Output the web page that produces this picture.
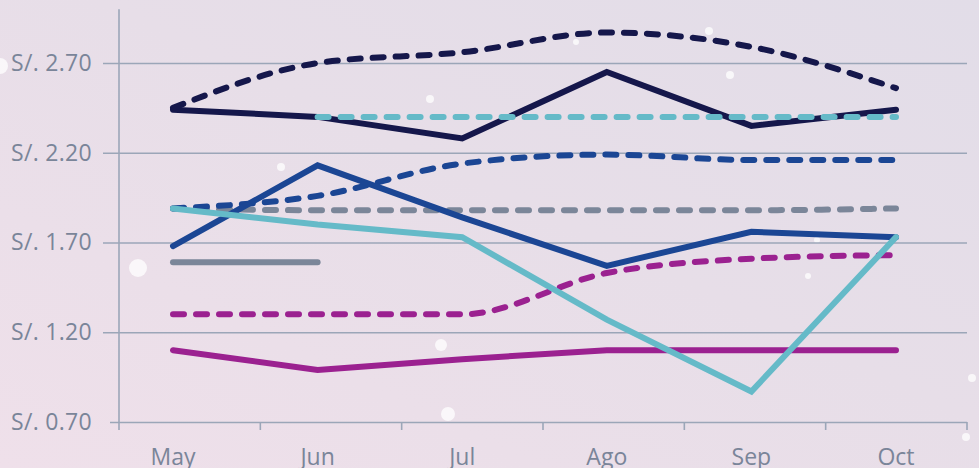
<!DOCTYPE html>
<html>
<head>
<meta charset="utf-8">
<script src="https://cdn.jsdelivr.net/npm/d3@7"></script>
<style>
  html, body { margin: 0; padding: 0; }
  body { width: 979px; height: 468px; overflow: hidden; }
</style>
</head>
<body>
<div id="wrapper"></div>
<script>
// 1. Data
const months = ["May", "Jun", "Jul", "Ago", "Sep", "Oct"]
const yTicks = [0.7, 1.2, 1.7, 2.2, 2.7]

const navySolid   = [2.44, 2.40, 2.28, 2.65, 2.35, 2.44]
const navyDashed  = [2.45, 2.70, 2.76, 2.87, 2.79, 2.56]
const cyanDashed  = [null, 2.40, 2.40, 2.40, 2.40, 2.40]
const blueSolid   = [1.68, 2.13, 1.84, 1.57, 1.76, 1.73]
const blueDashed  = [1.89, 1.96, 2.14, 2.19, 2.16, 2.16]
const grayDashed  = [1.89, 1.88, 1.88, 1.88, 1.88, 1.89]
const graySolid   = [1.59, 1.59, null, null, null, null]
const cyanSolid   = [1.89, 1.80, 1.73, 1.27, 0.87, 1.73]
const purpleDashed = [1.30, 1.30, 1.30, 1.53, 1.61, 1.63]
const purpleSolid = [1.10, 0.99, 1.05, 1.10, 1.10, 1.10]

// drawing order: bottom to top
const series = [
  { values: purpleSolid, color: "#9b2190", dashed: false },
  { values: purpleDashed, color: "#9b2190", dashed: true },
  { values: graySolid, color: "#7b8699", dashed: false },
  { values: grayDashed, color: "#7b8699", dashed: true },
  { values: blueDashed, color: "#1b4694", dashed: true },
  { values: blueSolid, color: "#1b4694", dashed: false },
  { values: cyanSolid, color: "#65bac8", dashed: false },
  { values: navySolid, color: "#15174b", dashed: false },
  { values: cyanDashed, color: "#65bac8", dashed: true },
  { values: navyDashed, color: "#15174b", dashed: true },
]

// decorative background dots [x, y, r]
const bokeh = [
  [0, 66, 8], [138, 268, 9], [448, 414, 7], [441, 345, 6], [430, 99, 4],
  [281, 167, 4], [576, 42, 3], [709, 31, 4], [730, 75, 4], [808, 276, 3],
  [972, 378, 4], [966, 437, 4], [817, 240, 3],
]

// 2. Dimensions
const dimensions = {
  width: 979,
  height: 468,
  axisX: 119,
  plotRight: 967,
  firstPoint: 173,
  lastPoint: 896,
  yTop: 9.2,
  yBottom: 422,
}

// 3. Canvas
const wrapper = d3
  .select("#wrapper")
  .append("svg")
  .attr("width", dimensions.width)
  .attr("height", dimensions.height)
  .style("display", "block")

const defs = wrapper.append("defs")
const bg = defs
  .append("linearGradient")
  .attr("id", "bg")
  .attr("x1", "0%")
  .attr("y1", "100%")
  .attr("x2", "100%")
  .attr("y2", "0%")
bg.append("stop").attr("offset", "0%").attr("stop-color", "#efe0ea")
bg.append("stop").attr("offset", "55%").attr("stop-color", "#e7dee8")
bg.append("stop").attr("offset", "100%").attr("stop-color", "#e2dde8")

wrapper
  .append("rect")
  .attr("width", dimensions.width)
  .attr("height", dimensions.height)
  .attr("fill", "url(#bg)")

wrapper
  .append("g")
  .selectAll("circle")
  .data(bokeh)
  .join("circle")
  .attr("cx", (d) => d[0])
  .attr("cy", (d) => d[1])
  .attr("r", (d) => d[2])
  .attr("fill", "#ffffff")
  .attr("opacity", 0.75)

// 4. Scales
const xScale = d3
  .scalePoint()
  .domain(months)
  .range([dimensions.firstPoint, dimensions.lastPoint])

const edgeScale = d3
  .scaleLinear()
  .domain([0, months.length])
  .range([dimensions.axisX, dimensions.plotRight])

const yScale = d3
  .scaleLinear()
  .domain([0.7, 3.0])
  .range([dimensions.yBottom, dimensions.yTop])

const axisColor = "#9ba6b8"
const textColor = "#7a8599"
const font = "'Open Sans', 'Liberation Sans', sans-serif"

// 5. Axes
const yAxisGenerator = d3
  .axisLeft(yScale)
  .tickValues(yTicks)
  .tickSize(-(dimensions.plotRight - dimensions.axisX))
  .tickPadding(27)
  .tickFormat((d) => "S/. " + d.toFixed(2))

const yAxis = wrapper
  .append("g")
  .attr("transform", `translate(${dimensions.axisX},0)`)
  .call(yAxisGenerator)

yAxis.select(".domain").remove()
yAxis
  .selectAll(".tick line")
  .attr("x1", (d) => (d === 0.7 ? -9 : -16))
  .attr("stroke", axisColor)
  .attr("stroke-width", 1.6)
yAxis
  .selectAll(".tick text")
  .attr("x", -27)
  .attr("fill", textColor)
  .style("font-size", "23px")
  .style("letter-spacing", "0.3px")
  .style("font-family", font)

// vertical axis line
wrapper
  .append("line")
  .attr("x1", dimensions.axisX)
  .attr("x2", dimensions.axisX)
  .attr("y1", yScale.range()[1])
  .attr("y2", dimensions.yBottom + 8)
  .attr("stroke", axisColor)
  .attr("stroke-width", 1.6)

// x tick marks on band edges
wrapper
  .append("g")
  .selectAll("line")
  .data(d3.range(1, months.length + 1))
  .join("line")
  .attr("x1", (d) => edgeScale(d))
  .attr("x2", (d) => edgeScale(d))
  .attr("y1", dimensions.yBottom)
  .attr("y2", dimensions.yBottom + 8)
  .attr("stroke", axisColor)
  .attr("stroke-width", 1.6)

// x labels
wrapper
  .append("g")
  .selectAll("text")
  .data(months)
  .join("text")
  .text((d) => d)
  .attr("x", (d) => xScale(d))
  .attr("y", 465)
  .attr("text-anchor", "middle")
  .attr("fill", textColor)
  .style("font-size", "23px")
  .style("font-family", font)

// 6. Lines
const lineGenerator = (dashed) =>
  d3
    .line()
    .defined((d) => d != null)
    .x((d, i) => xScale(months[i]))
    .y((d) => yScale(d))
    .curve(dashed ? d3.curveMonotoneX : d3.curveLinear)

wrapper
  .append("g")
  .selectAll("path")
  .data(series)
  .join("path")
  .attr("d", (s) => lineGenerator(s.dashed)(s.values))
  .attr("fill", "none")
  .attr("stroke", (s) => s.color)
  .attr("stroke-width", 6)
  .attr("stroke-linecap", "round")
  .attr("stroke-linejoin", "miter")
  .attr("stroke-dasharray", (s) => (s.dashed ? "11,12" : null))
</script>
</body>
</html>
